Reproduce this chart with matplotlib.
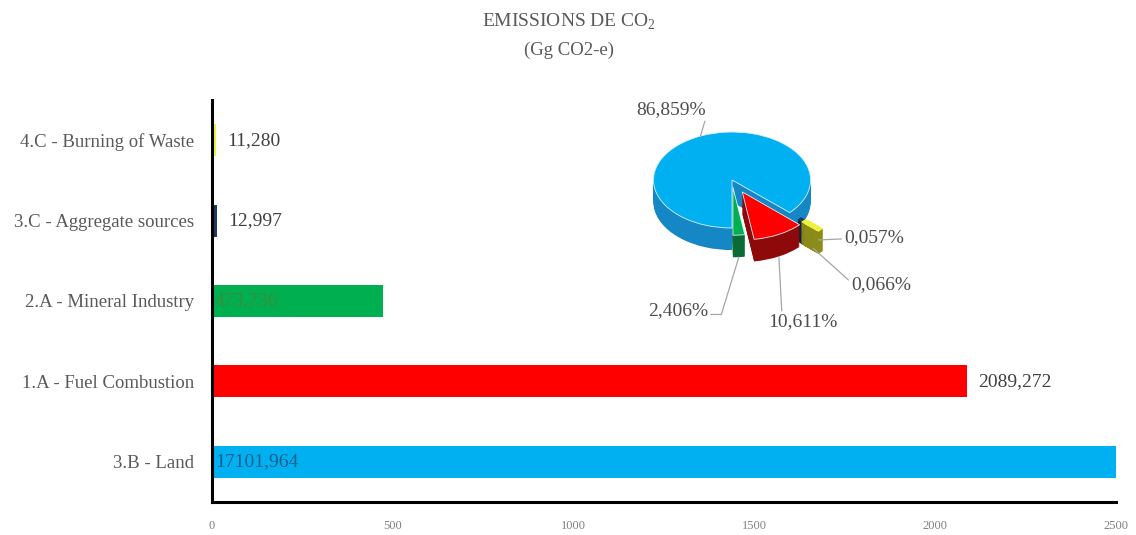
import matplotlib
matplotlib.use('Agg')
import matplotlib.pyplot as plt
import numpy as np

plt.rcParams['font.family'] = ['Liberation Serif', 'DejaVu Serif']
plt.rcParams['mathtext.fontset'] = 'custom'
plt.rcParams['mathtext.rm'] = 'Liberation Serif'

# emissions per source category (Gg CO2-e), bottom to top
categories = ['3.B - Land', '1.A - Fuel Combustion', '2.A - Mineral Industry',
              '3.C - Aggregate sources', '4.C - Burning of Waste']
emissions = [17101.964, 2089.272, 473.736, 12.997, 11.280]
shares = [86.859, 10.611, 2.406, 0.066, 0.057]
x_ticks = [0, 500, 1000, 1500, 2000, 2500]

bar_colors = ['#00B0F0', '#FF0000', '#00B050', '#203864', '#F0F040']
side_colors = ['#1487C4', '#8E0A0A', '#0B6B34', '#0F1F3A', '#8C8C1A']
label_inside = [True, False, True, False, False]
inside_colors = ['#1A5E8E', None, '#3C8C3C', None, None]

def fmt(v):
    return f"{v:.3f}".replace('.', ',')

fig = plt.figure(figsize=(11.36, 5.35), dpi=100)

# ---- bars ----
ax = fig.add_axes([0.1866, 0.0617, 0.7958, 0.7514])
y = np.arange(len(categories))
ax.barh(y, emissions, height=0.4, color=bar_colors)
ax.set_xlim(0, 2500)
ax.set_ylim(-0.5, 4.5)
ax.set_yticks(y, categories)
ax.set_xticks(x_ticks)
ax.tick_params(axis='y', length=0, pad=13, labelsize=13.5, labelcolor='#595959')
ax.tick_params(axis='x', length=0, pad=13, labelsize=9, labelcolor='#808080')
for s in ['top', 'right']:
    ax.spines[s].set_visible(False)
for s in ['left', 'bottom']:
    ax.spines[s].set_linewidth(2.2)
    ax.spines[s].set_color('black')

for i, v in enumerate(emissions):
    if label_inside[i]:
        ax.annotate(fmt(v), (0, i), xytext=(2, 0), textcoords='offset points',
                    ha='left', va='center', fontsize=14, color=inside_colors[i])
    else:
        ax.annotate(fmt(v), (min(v, 2500), i), xytext=(8, 0), textcoords='offset points',
                    ha='left', va='center', fontsize=14, color='#404040')

# ---- 3d-looking pie ----
pie_order = [0, 2, 1, 3, 4]      # counterclockwise from the end of the big slice
explode = {0: 0.0, 1: 0.28, 2: 0.15, 3: 0.42, 4: 0.5}
start = 270 - shares[0] * 3.6
vals = [shares[i] for i in pie_order]
expl = [explode[i] for i in pie_order]

pax = fig.add_axes([0.5269, 0.4841, 0.2350, 0.3140])
depth = 0.46
for k in np.linspace(depth, 0.0, 25):
    last = k == 0.0
    cols = [(bar_colors if last else side_colors)[i] for i in pie_order]
    wedges, _ = pax.pie(vals, colors=cols, explode=expl, startangle=start,
                        center=(0, -k), counterclock=True)
    for w, i in zip(wedges, pie_order):
        if shares[i] < 1:
            # tiny slices: only the outer rim shows, thickened so it is visible
            w.set_width(0.22)
            w.set_edgecolor(w.get_facecolor())
            w.set_linewidth(3.5 if i == 4 else 2.5)
        elif last:
            w.set_edgecolor('#d8f2ff')
            w.set_linewidth(0.6)
pax.set_aspect('auto')
pax.set_xlim(-1.7, 1.7)
pax.set_ylim(-2.0, 1.5)
pax.axis('off')

# mid angle of every slice
mids = {}
a = start
for i in pie_order:
    mids[i] = a + shares[i] * 1.8
    a += shares[i] * 3.6

def anchor(i, r=1.0, down=0.0):
    t = np.radians(mids[i])
    rr = r + explode[i]
    return (rr * np.cos(t), rr * np.sin(t) - down)

# label position, anchor depth, text alignment point, connection
label_pos = {0: (-0.78, 1.46), 1: (0.90, -2.96), 2: (-0.69, -2.73),
             3: (1.90, -2.17), 4: (1.81, -1.19)}
anchor_down = {0: 0.0, 1: depth, 2: depth, 3: depth, 4: depth * 0.5}
relpos = {0: (1, 0), 1: (0.2, 1), 2: (1, 0.3), 3: (0, 0.6), 4: (0, 0.4)}
conn = {2: 'angle,angleA=0,angleB=73'}

for i in range(len(shares)):
    props = dict(arrowstyle='-', color='#a6a6a6', lw=0.9, shrinkA=0, shrinkB=0,
                 relpos=relpos[i])
    if i in conn:
        props['connectionstyle'] = conn[i]
    pax.annotate(f"{fmt(shares[i])}%", anchor(i, down=anchor_down[i]),
                 xytext=label_pos[i], textcoords='data', ha='center', va='center',
                 fontsize=14, color='#4d4d4d', arrowprops=props, annotation_clip=False)

# ---- title ----
fig.text(0.501, 0.959, 'EMISSIONS DE CO$_2$', ha='center', va='center',
         fontsize=14, color='#595959')
fig.text(0.501, 0.9065, '(Gg CO2-e)', ha='center', va='center',
         fontsize=13.5, color='#595959')

fig.savefig('out.png', dpi=100)
